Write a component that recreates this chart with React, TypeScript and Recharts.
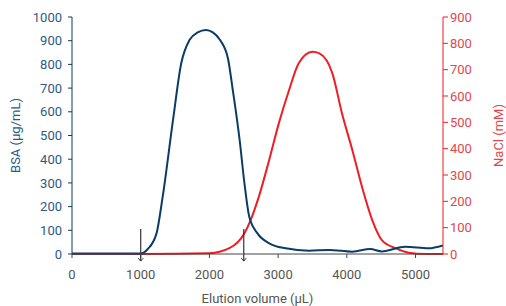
import { LineChart, Line, XAxis, YAxis, ReferenceLine } from 'recharts'

const xTicks = [0, 1000, 2000, 3000, 4000, 5000]
const bsaTicks = [0, 100, 200, 300, 400, 500, 600, 700, 800, 900, 1000]
const naclTicks = [0, 100, 200, 300, 400, 500, 600, 700, 800, 900]

const bsaVolume = [0, 500, 1000, 1100, 1230, 1320, 1470, 1590, 1710, 1830, 1950, 2050, 2150, 2270, 2340, 2440, 2510, 2580, 2700, 2870, 3110, 3450, 3740, 4080, 4340, 4510, 4850, 5190, 5400]
const bsaConc = [2, 2, 2, 20, 87, 242, 565, 805, 903, 935, 945, 935, 905, 825, 692, 481, 298, 157, 87, 45, 24, 14, 17, 10, 21, 11, 31, 24, 36]

const naclVolume = [0, 1000, 2000, 2290, 2510, 2600, 2720, 2870, 3010, 3160, 3300, 3500, 3600, 3790, 3930, 4080, 4220, 4370, 4510, 4710, 4900, 5140, 5400]
const naclConc = [0, 0, 3, 22, 79, 129, 218, 357, 496, 623, 724, 768, 762, 686, 534, 395, 256, 129, 53, 22, 5, 0, 0]

// fraction markers (arrows)
const markers = [1000, 2500]

const bsaData = bsaVolume.map((v, i) => ({ v, bsa: bsaConc[i] }))
const naclData = naclVolume.map((v, i) => ({ v, nacl: naclConc[i] }))

const BLUE = '#0b3c66'
const BLUE_TEXT = '#2c5a86'
const RED = '#ee1d26'
const RED_TEXT = '#e0474c'
const FONT = 'Roboto, "Noto Sans", sans-serif'

function Arrow(props: any) {
  const { x1, y1, x2, y2 } = props
  if (x1 == null) return null
  return (
    <g>
      <line x1={x1} y1={y1} x2={x2} y2={y2} stroke="#333" strokeWidth={1.2} />
      <path d={`M${x2 - 2.5},${y2 - 3} L${x2},${y2} L${x2 + 2.5},${y2 - 3}`} fill="none" stroke="#333" strokeWidth={1} />
    </g>
  )
}

export default function App() {
  return (
    <div style={{ position: 'absolute', left: 0, top: 0, fontFamily: FONT }}>
      <LineChart width={506} height={306} margin={{ top: 17, right: 0, bottom: 0, left: 0 }}>
        <XAxis
          type="number"
          dataKey="v"
          domain={[0, 5400]}
          ticks={xTicks}
          allowDataOverflow
          stroke="#444"
          tickSize={4}
          tickMargin={12}
          height={52}
          tick={{ fill: '#555', fontSize: 13, fontFamily: FONT }}
          label={{ value: 'Elution volume (µL)', position: 'insideBottom', offset: 3, fill: '#555', fontSize: 13, fontFamily: FONT }}
        />
        <YAxis
          yAxisId="bsa"
          domain={[0, 1000]}
          ticks={bsaTicks}
          width={72}
          stroke={BLUE}
          tickSize={4}
          tickMargin={6}
          interval={0}
          tick={{ fill: BLUE_TEXT, fontSize: 13, fontFamily: FONT }}
          label={{ value: 'BSA (µg/mL)', angle: -90, position: 'insideLeft', offset: 15, fill: BLUE_TEXT, fontSize: 13, fontFamily: FONT, style: { textAnchor: 'middle' } }}
        />
        <YAxis
          yAxisId="nacl"
          orientation="right"
          domain={[0, 900]}
          ticks={naclTicks}
          width={63}
          stroke={RED}
          tickSize={5}
          tickMargin={2}
          interval={0}
          tick={{ fill: RED_TEXT, fontSize: 13, fontFamily: FONT }}
          label={{ value: 'NaCl (mM)', angle: -90, position: 'insideRight', offset: 8, fill: RED_TEXT, fontSize: 13, fontFamily: FONT, style: { textAnchor: 'middle' } }}
        />
        <Line
          yAxisId="nacl"
          data={naclData}
          dataKey="nacl"
          type="monotone"
          stroke={RED}
          strokeWidth={2}
          dot={false}
          isAnimationActive={false}
        />
        <Line
          yAxisId="bsa"
          data={bsaData}
          dataKey="bsa"
          type="monotone"
          stroke={BLUE}
          strokeWidth={2}
          dot={false}
          isAnimationActive={false}
        />
        {markers.map((m) => (
          <ReferenceLine
            key={m}
            yAxisId="bsa"
            ifOverflow="visible"
            segment={[{ x: m, y: 105 }, { x: m, y: -30 }]}
            shape={Arrow}
          />
        ))}
      </LineChart>
    </div>
  )
}
